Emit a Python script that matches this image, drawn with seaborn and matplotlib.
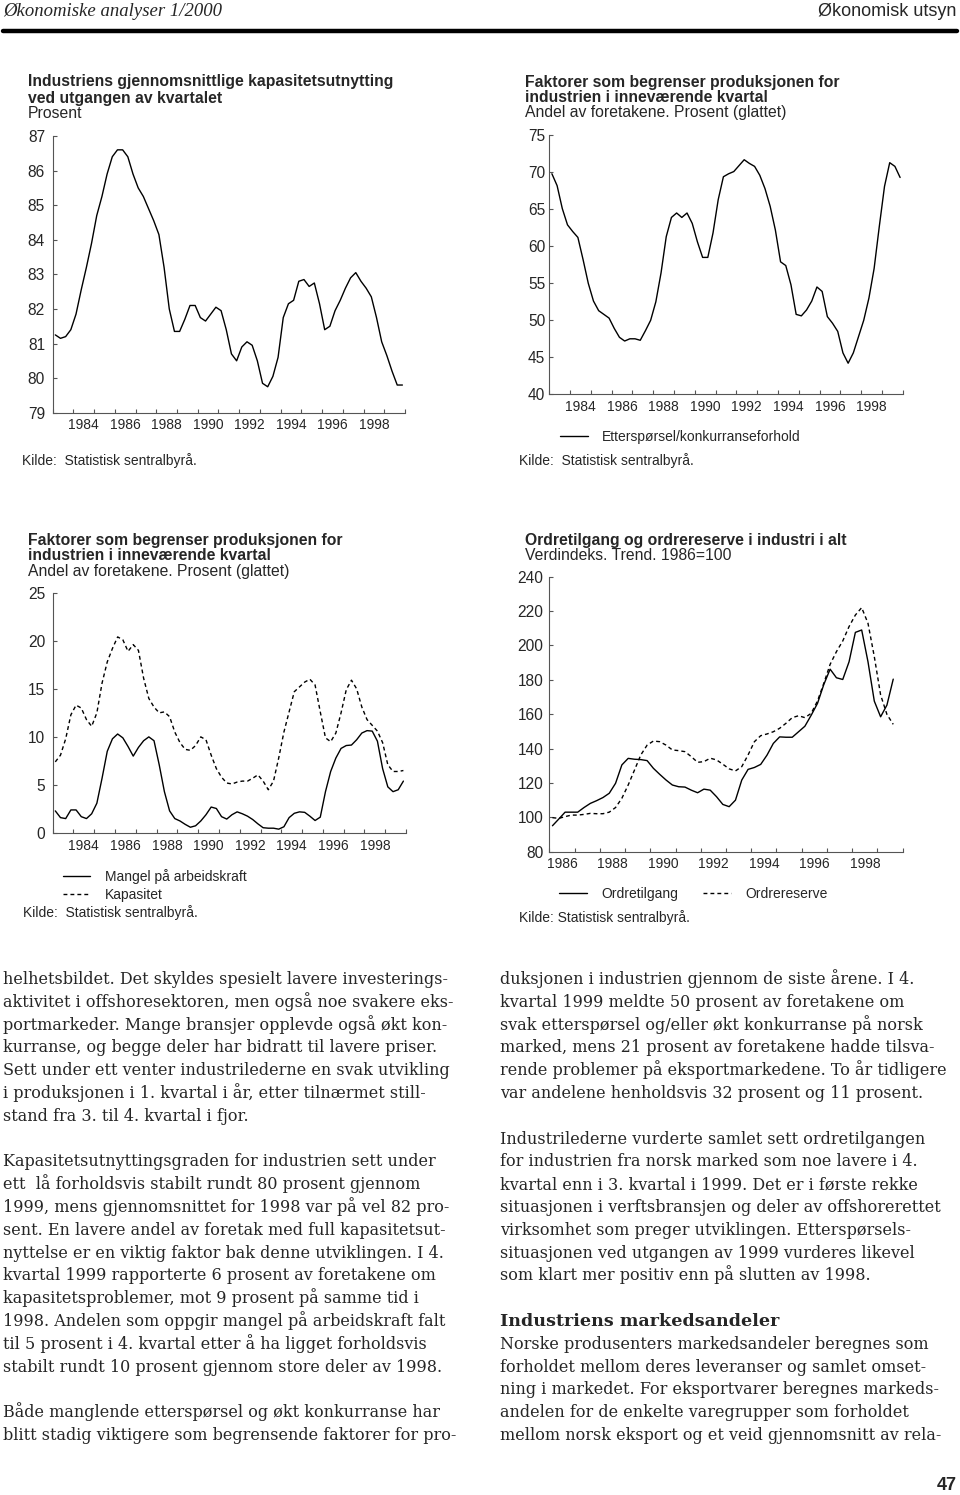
import numpy as np
import matplotlib
matplotlib.use("Agg")
import matplotlib.pyplot as plt
from matplotlib.lines import Line2D
import seaborn as sns

# kvartalsdata, lest av figurene
kap_utnytting = [81.25, 81.15, 81.2, 81.4, 81.85, 82.55, 83.2, 83.9, 84.7, 85.25,
                 85.9, 86.4, 86.6, 86.6, 86.4, 85.9, 85.5, 85.25, 84.9, 84.55,
                 84.15, 83.2, 82.0, 81.35, 81.35, 81.7, 82.1, 82.1, 81.75, 81.65,
                 81.85, 82.05, 81.95, 81.4, 80.7, 80.5, 80.9, 81.05, 80.95, 80.5,
                 79.85, 79.75, 80.05, 80.6, 81.75, 82.15, 82.25, 82.8, 82.85, 82.65,
                 82.75, 82.15, 81.4, 81.5, 81.95, 82.25, 82.6, 82.9, 83.05, 82.8,
                 82.6, 82.35, 81.75, 81.05, 80.65, 80.2, 79.8, 79.8]

ettersporsel = [69.8, 68.2, 65.1, 62.9, 62.0, 61.2, 58.2, 55.0, 52.6, 51.3,
                50.8, 50.3, 48.9, 47.7, 47.2, 47.5, 47.5, 47.3, 48.6, 50.0,
                52.5, 56.4, 61.3, 63.9, 64.5, 63.9, 64.5, 63.1, 60.6, 58.5,
                58.5, 61.8, 66.3, 69.4, 69.8, 70.1, 70.9, 71.7, 71.2, 70.8,
                69.6, 67.8, 65.4, 62.2, 57.9, 57.4, 54.8, 50.8, 50.6, 51.4,
                52.6, 54.5, 53.9, 50.5, 49.6, 48.5, 45.6, 44.2, 45.6, 47.8,
                50.0, 53.0, 57.0, 62.7, 68.1, 71.3, 70.8, 69.3]

mangel_arbeidskraft = [2.3, 1.6, 1.5, 2.4, 2.4, 1.7, 1.5, 2.0, 3.1, 5.7,
                       8.5, 9.8, 10.3, 9.9, 9.0, 8.0, 8.9, 9.6, 10.0, 9.6,
                       7.1, 4.3, 2.3, 1.5, 1.25, 0.9, 0.6, 0.75, 1.25, 1.9,
                       2.7, 2.55, 1.7, 1.45, 1.9, 2.2, 2.0, 1.75, 1.4, 0.95,
                       0.55, 0.5, 0.5, 0.4, 0.65, 1.6, 2.05, 2.2, 2.15, 1.75,
                       1.3, 1.65, 4.3, 6.4, 7.8, 8.8, 9.1, 9.15, 9.7, 10.4,
                       10.65, 10.6, 9.55, 6.7, 4.8, 4.3, 4.5, 5.4]

kapasitet = [7.4, 8.1, 9.8, 12.3, 13.3, 13.0, 11.8, 11.1, 12.5, 15.6,
             17.8, 19.2, 20.4, 20.1, 18.9, 19.6, 19.0, 16.1, 14.0, 13.1,
             12.5, 12.6, 12.1, 10.5, 9.4, 8.7, 8.6, 9.1, 10.0, 9.7,
             8.1, 6.7, 5.8, 5.2, 5.1, 5.3, 5.4, 5.4, 5.7, 6.05,
             5.4, 4.5, 5.4, 7.8, 10.5, 12.6, 14.7, 15.2, 15.7, 16.0,
             15.4, 12.6, 9.9, 9.5, 10.4, 12.5, 14.9, 15.9, 15.0, 13.1,
             11.8, 11.2, 10.6, 9.4, 7.1, 6.4, 6.4, 6.5]

ordretilgang = [95.1, 99, 103, 103, 103, 105.7, 108.1, 109.7, 111.5, 114,
                119.8, 130.5, 134.3, 133.8, 133.6, 133, 128.5, 125, 121.7, 118.8,
                117.8, 117.6, 115.8, 114.3, 116.4, 115.8, 112, 107.5, 106.2, 110,
                121.7, 127.9, 129, 130.8, 136.2, 143, 146.8, 146.6, 146.6, 149.8,
                153, 159.4, 166.3, 177.3, 186.2, 181.2, 180.2, 190.5, 207.6, 209,
                190.5, 167.6, 158.5, 165.3, 180.4]

ordrereserve = [99.8, 99.4, 100.4, 101.3, 101.3, 101.7, 102.3, 102.1, 102.1, 103,
                105.7, 111.1, 118.8, 127.5, 136.3, 142, 144.4, 144, 142, 139.2,
                138.8, 138.2, 135.3, 132, 132.4, 134.4, 133.4, 130.9, 128.2, 127,
                129.5, 136.3, 144, 147.5, 148.5, 149.8, 151.8, 154.7, 158, 159.1,
                158, 160.5, 167.7, 178, 189, 196.4, 202.6, 211, 217.7, 222,
                212.9, 193.5, 171.2, 159.9, 154.1]

# kvartaler (midt i kvartalet)
kv_1983 = 1983 + (np.arange(len(kap_utnytting)) + 0.5) / 4
kv_1986 = 1986 + (np.arange(len(ordretilgang)) + 0.5) / 4

venstre_spalte = [
    "helhetsbildet. Det skyldes spesielt lavere investerings-",
    "aktivitet i offshoresektoren, men også noe svakere eks-",
    "portmarkeder. Mange bransjer opplevde også økt kon-",
    "kurranse, og begge deler har bidratt til lavere priser.",
    "Sett under ett venter industrilederne en svak utvikling",
    "i produksjonen i 1. kvartal i år, etter tilnærmet still-",
    "stand fra 3. til 4. kvartal i fjor.",
    "",
    "Kapasitetsutnyttingsgraden for industrien sett under",
    "ett  lå forholdsvis stabilt rundt 80 prosent gjennom",
    "1999, mens gjennomsnittet for 1998 var på vel 82 pro-",
    "sent. En lavere andel av foretak med full kapasitetsut-",
    "nyttelse er en viktig faktor bak denne utviklingen. I 4.",
    "kvartal 1999 rapporterte 6 prosent av foretakene om",
    "kapasitetsproblemer, mot 9 prosent på samme tid i",
    "1998. Andelen som oppgir mangel på arbeidskraft falt",
    "til 5 prosent i 4. kvartal etter å ha ligget forholdsvis",
    "stabilt rundt 10 prosent gjennom store deler av 1998.",
    "",
    "Både manglende etterspørsel og økt konkurranse har",
    "blitt stadig viktigere som begrensende faktorer for pro-",
]

hoyre_spalte = [
    "duksjonen i industrien gjennom de siste årene. I 4.",
    "kvartal 1999 meldte 50 prosent av foretakene om",
    "svak etterspørsel og/eller økt konkurranse på norsk",
    "marked, mens 21 prosent av foretakene hadde tilsva-",
    "rende problemer på eksportmarkedene. To år tidligere",
    "var andelene henholdsvis 32 prosent og 11 prosent.",
    "",
    "Industrilederne vurderte samlet sett ordretilgangen",
    "for industrien fra norsk marked som noe lavere i 4.",
    "kvartal enn i 3. kvartal i 1999. Det er i første rekke",
    "situasjonen i verftsbransjen og deler av offshorerettet",
    "virksomhet som preger utviklingen. Etterspørsels-",
    "situasjonen ved utgangen av 1999 vurderes likevel",
    "som klart mer positiv enn på slutten av 1998.",
    "",
    "Industriens markedsandeler",
    "Norske produsenters markedsandeler beregnes som",
    "forholdet mellom deres leveranser og samlet omset-",
    "ning i markedet. For eksportvarer beregnes markeds-",
    "andelen for de enkelte varegrupper som forholdet",
    "mellom norsk eksport og et veid gjennomsnitt av rela-",
]

W, H = 960, 1495
sns.set_style("ticks")
plt.rcParams["font.family"] = ["Liberation Sans", "DejaVu Sans"]
fig = plt.figure(figsize=(W / 100, H / 100), dpi=100)
fig.patch.set_facecolor("white")

AXC = "#555555"
FS = 10        # aksetekst og forklaring
FS_Y = 11.2    # verdier på y-aksen
FS_T = 11.3    # overskrifter
DASH = (0, (2.8, 2.2))


def fx(x):
    return x / W


def fy(y):
    return 1 - y / H


def add_panel(left, top, right, bottom):
    return fig.add_axes([left / W, 1 - bottom / H, (right - left) / W, (bottom - top) / H])


def style_axis(ax, xlim, ylim, yticks, first_label, ypad):
    ax.set_xlim(*xlim)
    ax.set_ylim(*ylim)
    ax.set_yticks(yticks)
    ax.set_xticks(np.arange(xlim[0], xlim[1] + 1))
    ax.set_xticklabels([])
    years = np.arange(first_label, 1999, 2)
    ax.set_xticks(years + 0.5, minor=True)
    ax.set_xticklabels([str(y) for y in years], minor=True)
    ax.tick_params(axis="both", which="major", direction="in", length=3,
                   width=0.8, color=AXC)
    ax.tick_params(axis="y", labelsize=FS_Y, pad=ypad)
    ax.tick_params(axis="x", which="minor", length=0, pad=4, labelsize=FS)
    for s in ["top", "right"]:
        ax.spines[s].set_visible(False)
    for s in ["left", "bottom"]:
        ax.spines[s].set_color(AXC)
        ax.spines[s].set_linewidth(0.8)
    ax.set_xlabel("")
    ax.set_ylabel("")
    ax.set_facecolor("none")


def title(x, ys, lines):
    for i, (y, txt) in enumerate(zip(ys, lines)):
        bold = i < len(lines) - 1
        fig.text(fx(x), fy(y), txt, fontsize=FS_T, va="center", ha="left",
                 fontweight="bold" if bold else "normal")


def legend(ax, x, y, ncol=1):
    ax.legend(loc="upper left", bbox_to_anchor=(fx(x), fy(y)),
              bbox_transform=fig.transFigure, frameon=False, ncol=ncol,
              handlelength=2.0, handletextpad=1.05, borderpad=0,
              borderaxespad=0, fontsize=FS, labelspacing=0.3,
              columnspacing=1.8)


# ---- topptekst ----
fig.text(fx(3), fy(12), "Økonomiske analyser 1/2000", family=["Liberation Serif"],
         style="italic", fontsize=13.5, va="center", ha="left")
fig.text(fx(956), fy(12), "Økonomisk utsyn", fontsize=13, va="center", ha="right")
fig.add_artist(Line2D([fx(3), fx(957)], [fy(31), fy(31)], color="black", lw=3.2))

# ---- figur 1: kapasitetsutnytting ----
ax1 = add_panel(52.7, 136, 405, 412.7)
sns.lineplot(x=kv_1983, y=kap_utnytting, ax=ax1, color="black", linewidth=1.0,
             estimator=None)
style_axis(ax1, (1983, 2000), (79, 87), np.arange(79, 88, 1), 1984, 5.5)
title(28, [81.7, 98, 114], ["Industriens gjennomsnittlige kapasitetsutnytting",
                            "ved utgangen av kvartalet", "Prosent"])
fig.text(fx(22), fy(461), "Kilde:  Statistisk sentralbyrå.", fontsize=FS, va="center")

# ---- figur 2: etterspørsel/konkurranse ----
ax2 = add_panel(549.3, 135.3, 902.7, 394.3)
sns.lineplot(x=kv_1983, y=ettersporsel, ax=ax2, color="black", linewidth=1.0,
             estimator=None, label="Etterspørsel/konkurranseforhold")
style_axis(ax2, (1983, 2000), (40, 75), np.arange(40, 76, 5), 1984, 3)
legend(ax2, 560, 430)
title(525, [83, 98, 113], ["Faktorer som begrenser produksjonen for",
                           "industrien i inneværende kvartal",
                           "Andel av foretakene. Prosent (glattet)"])
fig.text(fx(519), fy(461), "Kilde:  Statistisk sentralbyrå.", fontsize=FS, va="center")

# ---- figur 3: arbeidskraft og kapasitet ----
ax3 = add_panel(52.7, 592.7, 406, 833)
sns.lineplot(x=kv_1983, y=mangel_arbeidskraft, ax=ax3, color="black", linewidth=1.0,
             estimator=None, label="Mangel på arbeidskraft")
sns.lineplot(x=kv_1983, y=kapasitet, ax=ax3, color="black", linewidth=1.0,
             estimator=None, label="Kapasitet", linestyle=DASH)
style_axis(ax3, (1983, 2000), (0, 25), np.arange(0, 26, 5), 1984, 5.5)
legend(ax3, 62.7, 869)
title(28, [540, 555.7, 571.7], ["Faktorer som begrenser produksjonen for",
                                "industrien i inneværende kvartal",
                                "Andel av foretakene. Prosent (glattet)"])
fig.text(fx(22.7), fy(913), "Kilde:  Statistisk sentralbyrå.", fontsize=FS, va="center")

# ---- figur 4: ordretilgang og ordrereserve ----
ax4 = add_panel(549.3, 576.7, 902.7, 851.7)
sns.lineplot(x=kv_1986, y=ordretilgang, ax=ax4, color="black", linewidth=1.0,
             estimator=None, label="Ordretilgang")
sns.lineplot(x=kv_1986, y=ordrereserve, ax=ax4, color="black", linewidth=1.0,
             estimator=None, label="Ordrereserve", linestyle=DASH)
style_axis(ax4, (1986, 2000), (80, 240), np.arange(80, 241, 20), 1986, 4.3)
legend(ax4, 559, 887, ncol=2)
title(525, [540, 555.7], ["Ordretilgang og ordrereserve i industri i alt",
                          "Verdindeks. Trend. 1986=100"])
fig.text(fx(519), fy(918), "Kilde: Statistisk sentralbyrå.", fontsize=FS, va="center")

# ---- brødtekst ----
BODY = dict(family=["DejaVu Serif"], va="baseline", ha="left")
for k, line in enumerate(venstre_spalte):
    if line:
        fig.text(fx(3), fy(984 + 22.8 * k), line, fontsize=11.5, **BODY)
for k, line in enumerate(hoyre_spalte):
    if not line:
        continue
    if line == "Industriens markedsandeler":
        fig.text(fx(500), fy(984 + 22.8 * k), line, fontsize=12.6,
                 fontweight="bold", **BODY)
    else:
        fig.text(fx(500), fy(984 + 22.8 * k), line, fontsize=11.5, **BODY)

fig.text(fx(957), fy(1485), "47", fontsize=13, fontweight="bold", va="center", ha="right")

fig.savefig("out.png", dpi=100, facecolor="white")
